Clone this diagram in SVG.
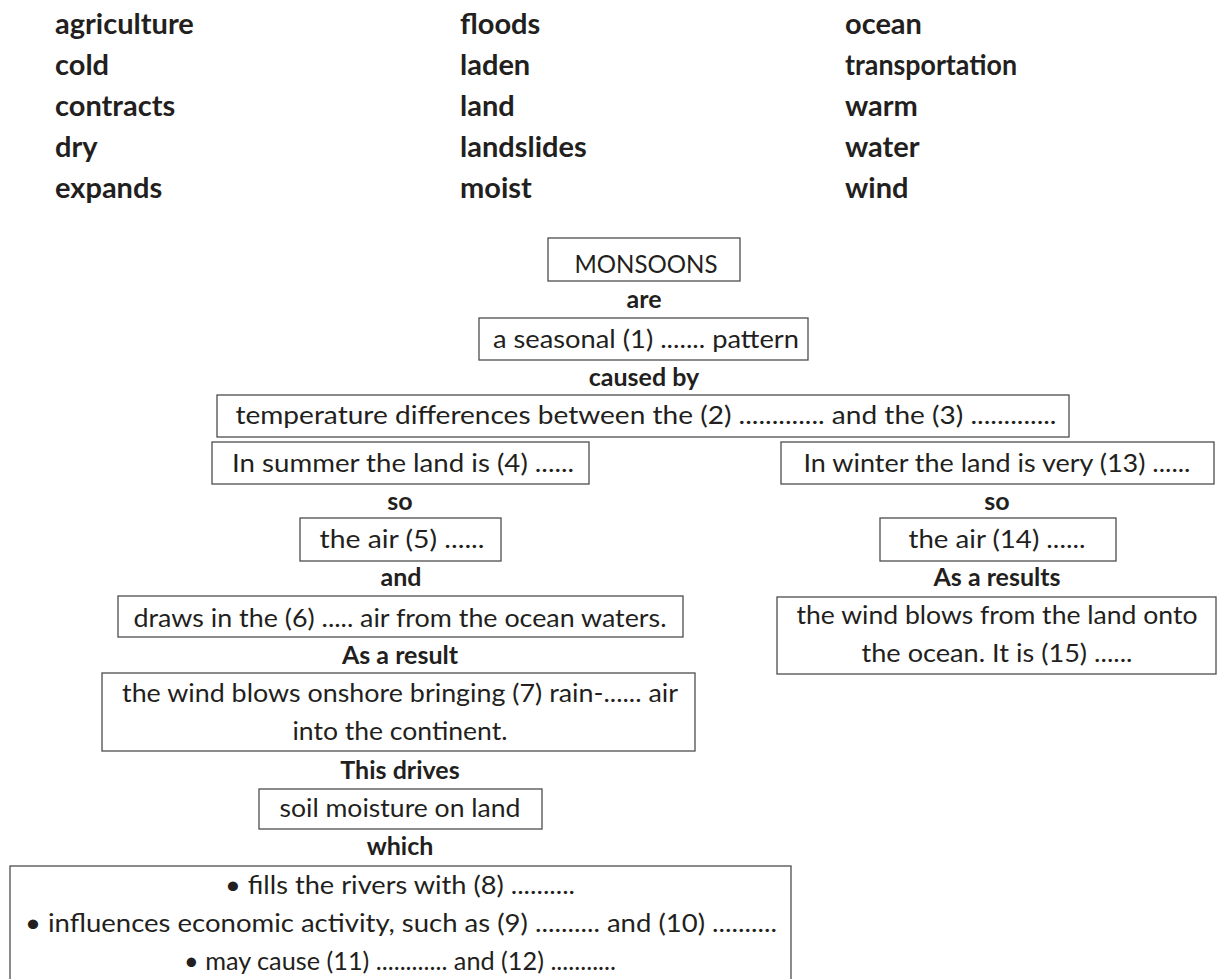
<svg xmlns="http://www.w3.org/2000/svg" width="1217" height="979" viewBox="0 0 1217 979">
<style>
.bg{fill:#ffffff}
.box{fill:#ffffff;stroke:#4d4d4d;stroke-width:1.3}
.t{font-family:Lato,"Open Sans","Liberation Sans",sans-serif;font-size:25px;fill:#231f20;text-anchor:middle}
.b{font-family:Lato,"Open Sans","Liberation Sans",sans-serif;font-size:25px;font-weight:bold;fill:#231f20;text-anchor:middle}
.w{font-family:Lato,"Open Sans","Liberation Sans",sans-serif;font-size:29px;font-weight:bold;fill:#231f20}
</style>
<rect class="bg" x="0" y="0" width="1217" height="979"/>
<g id="wordlist">
<text class="w" x="55" y="34">agriculture</text>
<text class="w" x="55" y="75">cold</text>
<text class="w" x="55" y="116">contracts</text>
<text class="w" x="55" y="157">dry</text>
<text class="w" x="55" y="198">expands</text>
<text class="w" x="460" y="34">floods</text>
<text class="w" x="460" y="75">laden</text>
<text class="w" x="460" y="116">land</text>
<text class="w" x="460" y="157">landslides</text>
<text class="w" x="460" y="198">moist</text>
<text class="w" x="845" y="34">ocean</text>
<text class="w" x="845" y="75" textLength="172" lengthAdjust="spacingAndGlyphs">transportation</text>
<text class="w" x="845" y="116">warm</text>
<text class="w" x="845" y="157">water</text>
<text class="w" x="845" y="198">wind</text>
</g>
<g id="monsoons">
<rect class="box" x="548" y="238" width="192" height="43"/>
<text class="t" x="646" y="273" textLength="143" lengthAdjust="spacingAndGlyphs">MONSOONS</text>
</g>
<g id="seasonal">
<rect class="box" x="479" y="318" width="329" height="42"/>
<text class="t" x="646" y="348" textLength="306" lengthAdjust="spacingAndGlyphs">a seasonal (1) ....... pattern</text>
</g>
<g id="temperature">
<rect class="box" x="217" y="395" width="852" height="42"/>
<text class="t" x="646" y="424" textLength="821" lengthAdjust="spacingAndGlyphs">temperature differences between the (2) ............. and the (3) .............</text>
</g>
<g id="summer">
<rect class="box" x="212" y="442" width="377" height="42"/>
<text class="t" x="403" y="472" textLength="342" lengthAdjust="spacingAndGlyphs">In summer the land is (4) ......</text>
</g>
<g id="winter">
<rect class="box" x="781" y="442" width="433" height="42"/>
<text class="t" x="997" y="472" textLength="387" lengthAdjust="spacingAndGlyphs">In winter the land is very (13) ......</text>
</g>
<g id="air5">
<rect class="box" x="300" y="518" width="201" height="43"/>
<text class="t" x="402" y="548" textLength="165" lengthAdjust="spacingAndGlyphs">the air (5) ......</text>
</g>
<g id="air14">
<rect class="box" x="880" y="518" width="236" height="43"/>
<text class="t" x="997" y="548" textLength="177" lengthAdjust="spacingAndGlyphs">the air (14) ......</text>
</g>
<g id="draws">
<rect class="box" x="118" y="596" width="565" height="41"/>
<text class="t" x="400" y="627" textLength="533" lengthAdjust="spacingAndGlyphs">draws in the (6) ..... air from the ocean waters.</text>
</g>
<g id="offshore">
<rect class="box" x="777" y="597" width="439" height="77"/>
<text class="t" x="997" y="624" textLength="401" lengthAdjust="spacingAndGlyphs">the wind blows from the land onto</text>
<text class="t" x="997" y="662" textLength="271" lengthAdjust="spacingAndGlyphs">the ocean. It is (15) ......</text>
</g>
<g id="onshore">
<rect class="box" x="102" y="673" width="593" height="78"/>
<text class="t" x="400" y="702" textLength="556" lengthAdjust="spacingAndGlyphs">the wind blows onshore bringing (7) rain-...... air</text>
<text class="t" x="400" y="740" textLength="215" lengthAdjust="spacingAndGlyphs">into the continent.</text>
</g>
<g id="soil">
<rect class="box" x="259" y="789" width="283" height="40"/>
<text class="t" x="400" y="817" textLength="241" lengthAdjust="spacingAndGlyphs">soil moisture on land</text>
</g>
<g id="effects">
<rect class="box" x="10" y="866" width="781" height="125"/>
<text class="t" x="400" y="894" textLength="350" lengthAdjust="spacingAndGlyphs">• fills the rivers with (8) ..........</text>
<text class="t" x="401" y="932" textLength="752" lengthAdjust="spacingAndGlyphs">• influences economic activity, such as (9) .......... and (10) ..........</text>
<text class="t" x="400" y="970" textLength="432" lengthAdjust="spacingAndGlyphs">• may cause (11) ............ and (12) ...........</text>
</g>
<g id="connectors">
<text class="b" x="644" y="308">are</text>
<text class="b" x="644" y="386">caused by</text>
<text class="b" x="400" y="510">so</text>
<text class="b" x="997" y="510">so</text>
<text class="b" x="401" y="586">and</text>
<text class="b" x="997" y="586">As a results</text>
<text class="b" x="400" y="664">As a result</text>
<text class="b" x="400" y="779">This drives</text>
<text class="b" x="400" y="855">which</text>
</g>
</svg>
